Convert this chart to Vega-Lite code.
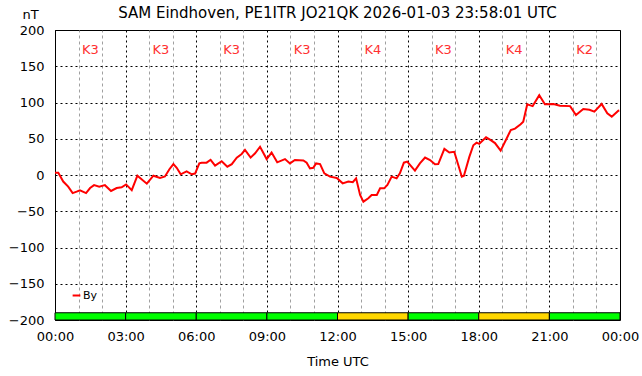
{
  "$schema": "https://vega.github.io/schema/vega-lite/v6.json",
  "width": 565,
  "height": 290,
  "autosize": "none",
  "padding": {"left": 55, "top": 30, "right": 22, "bottom": 56},
  "background": "white",
  "config": {
    "font": "DejaVu Sans",
    "view": {"stroke": "black", "strokeWidth": 1},
    "title": {"font": "DejaVu Sans", "fontSize": 15, "fontWeight": "normal", "color": "black", "offset": 5}
  },
  "title": {"text": "SAM Eindhoven, PE1ITR JO21QK 2026-01-03 23:58:01 UTC", "anchor": "middle", "dy": 18},
  "datasets": {
    "blocks": [
      {"start": 0, "end": 3, "mid": 1.5, "k": "K3"},
      {"start": 3, "end": 6, "mid": 4.5, "k": "K3"},
      {"start": 6, "end": 9, "mid": 7.5, "k": "K3"},
      {"start": 9, "end": 12, "mid": 10.5, "k": "K3"},
      {"start": 12, "end": 15, "mid": 13.5, "k": "K4"},
      {"start": 15, "end": 18, "mid": 16.5, "k": "K3"},
      {"start": 18, "end": 21, "mid": 19.5, "k": "K4"},
      {"start": 21, "end": 24, "mid": 22.5, "k": "K2"}
    ],
    "by": [
      {"h": 0.00, "nT": 3}, {"h": 0.14, "nT": 3}, {"h": 0.35, "nT": -9}, {"h": 0.56, "nT": -16},
      {"h": 0.75, "nT": -25}, {"h": 0.92, "nT": -23}, {"h": 1.06, "nT": -21}, {"h": 1.32, "nT": -25},
      {"h": 1.49, "nT": -18}, {"h": 1.66, "nT": -14}, {"h": 1.88, "nT": -16}, {"h": 2.12, "nT": -14},
      {"h": 2.38, "nT": -22}, {"h": 2.62, "nT": -18}, {"h": 2.83, "nT": -17}, {"h": 3.02, "nT": -13},
      {"h": 3.26, "nT": -21}, {"h": 3.50, "nT": -1}, {"h": 3.90, "nT": -12}, {"h": 4.18, "nT": -1},
      {"h": 4.46, "nT": -4}, {"h": 4.67, "nT": -2}, {"h": 4.86, "nT": 8}, {"h": 5.03, "nT": 15},
      {"h": 5.17, "nT": 10}, {"h": 5.34, "nT": 1}, {"h": 5.59, "nT": 5}, {"h": 5.81, "nT": 1},
      {"h": 5.95, "nT": 2}, {"h": 6.13, "nT": 16}, {"h": 6.23, "nT": 17}, {"h": 6.44, "nT": 17},
      {"h": 6.61, "nT": 21}, {"h": 6.80, "nT": 13}, {"h": 7.08, "nT": 19}, {"h": 7.32, "nT": 11.5},
      {"h": 7.51, "nT": 15}, {"h": 7.72, "nT": 24}, {"h": 7.93, "nT": 29}, {"h": 8.07, "nT": 34.5},
      {"h": 8.31, "nT": 24}, {"h": 8.50, "nT": 30}, {"h": 8.71, "nT": 39}, {"h": 8.99, "nT": 22},
      {"h": 9.20, "nT": 31}, {"h": 9.44, "nT": 17.5}, {"h": 9.77, "nT": 22}, {"h": 9.98, "nT": 16},
      {"h": 10.19, "nT": 20.7}, {"h": 10.55, "nT": 20}, {"h": 10.69, "nT": 17}, {"h": 10.83, "nT": 9},
      {"h": 10.97, "nT": 10}, {"h": 11.09, "nT": 16}, {"h": 11.26, "nT": 15}, {"h": 11.44, "nT": 2.3},
      {"h": 11.68, "nT": -2.3}, {"h": 11.97, "nT": -4}, {"h": 12.22, "nT": -11.5}, {"h": 12.46, "nT": -9},
      {"h": 12.65, "nT": -10}, {"h": 12.79, "nT": -4.6}, {"h": 12.96, "nT": -27.6}, {"h": 13.10, "nT": -36.8},
      {"h": 13.31, "nT": -32}, {"h": 13.45, "nT": -27.6}, {"h": 13.67, "nT": -27.6}, {"h": 13.81, "nT": -18.4},
      {"h": 13.98, "nT": -18.4}, {"h": 14.12, "nT": -13.8}, {"h": 14.30, "nT": -2.3}, {"h": 14.51, "nT": -4.6},
      {"h": 14.65, "nT": 2.3}, {"h": 14.82, "nT": 17}, {"h": 14.96, "nT": 18.4}, {"h": 15.29, "nT": 6},
      {"h": 15.50, "nT": 16}, {"h": 15.72, "nT": 24}, {"h": 15.93, "nT": 20.7}, {"h": 16.14, "nT": 14.7},
      {"h": 16.28, "nT": 15}, {"h": 16.54, "nT": 36}, {"h": 16.75, "nT": 31}, {"h": 16.96, "nT": 32},
      {"h": 17.13, "nT": 13.8}, {"h": 17.28, "nT": -2.3}, {"h": 17.37, "nT": -1}, {"h": 17.60, "nT": 25},
      {"h": 17.77, "nT": 41}, {"h": 17.91, "nT": 44.6}, {"h": 18.02, "nT": 43}, {"h": 18.31, "nT": 52},
      {"h": 18.51, "nT": 48}, {"h": 18.69, "nT": 44}, {"h": 18.93, "nT": 33.5}, {"h": 19.19, "nT": 50.6},
      {"h": 19.36, "nT": 62}, {"h": 19.54, "nT": 64}, {"h": 19.78, "nT": 70}, {"h": 19.89, "nT": 73.5},
      {"h": 20.06, "nT": 97.5}, {"h": 20.29, "nT": 95}, {"h": 20.57, "nT": 110}, {"h": 20.81, "nT": 97.5},
      {"h": 21.17, "nT": 98}, {"h": 21.45, "nT": 95.6}, {"h": 21.88, "nT": 95}, {"h": 22.13, "nT": 82.8},
      {"h": 22.44, "nT": 91}, {"h": 22.70, "nT": 90}, {"h": 22.91, "nT": 87.4}, {"h": 23.22, "nT": 98},
      {"h": 23.46, "nT": 85}, {"h": 23.65, "nT": 80.5}, {"h": 23.93, "nT": 88.7}, {"h": 23.97, "nT": 89}
    ]
  },
  "resolve": {"axis": {"x": "independent", "y": "independent"}},
  "layer": [
    {
      "data": {"name": "blocks"},
      "mark": {"type": "rect", "stroke": "black", "strokeWidth": 1},
      "encoding": {
        "x": {
          "field": "start", "type": "quantitative",
          "scale": {"domain": [0, 24], "nice": false, "zero": false},
          "axis": {
            "orient": "top", "values": [1, 2, 4, 5, 7, 8, 10, 11, 13, 14, 16, 17, 19, 20, 22, 23],
            "grid": true, "gridColor": "#a0a0a0", "gridDash": [3, 3], "gridWidth": 1,
            "labels": false, "ticks": false, "domain": false, "title": null,
            "minExtent": 0, "maxExtent": 0
          }
        },
        "x2": {"field": "end"},
        "y": {
          "datum": -200, "type": "quantitative",
          "scale": {"domain": [-200, 200], "nice": false},
          "axis": {
            "orient": "left",
            "values": [-200, -150, -100, -50, 0, 50, 100, 150, 200],
            "grid": true, "gridColor": "black", "gridDash": [2, 3], "gridWidth": 1,
            "domain": false, "ticks": false, "labelPadding": 11, "labelFontSize": 13,
            "labelColor": "black", "labelFont": "DejaVu Sans", "labelFlush": false, "labelOverlap": false,
            "title": "nT", "titleAngle": 0, "titleX": -25, "titleY": -16, "titleAlign": "center",
            "titleBaseline": "middle", "titleFontSize": 13, "titleFontWeight": "normal", "titleColor": "black",
            "titleFont": "DejaVu Sans"
          }
        },
        "y2": {"datum": -190},
        "fill": {
          "field": "k", "type": "nominal",
          "scale": {"domain": ["K2", "K3", "K4"], "range": ["#00ff00", "#00ff00", "#ffd700"]},
          "legend": null
        }
      }
    },
    {
      "data": {"name": "blocks"},
      "mark": {"type": "text", "fontSize": 13, "color": "#ff3030", "font": "DejaVu Sans", "baseline": "middle", "align": "center"},
      "encoding": {
        "x": {"field": "mid", "type": "quantitative", "axis": null},
        "y": {"datum": 172, "type": "quantitative", "axis": null},
        "text": {"field": "k"}
      }
    },
    {
      "data": {"name": "by"},
      "mark": {"type": "line", "strokeWidth": 2, "interpolate": "linear"},
      "encoding": {
        "x": {
          "field": "h", "type": "quantitative",
          "axis": {
            "orient": "bottom", "values": [0, 3, 6, 9, 12, 15, 18, 21, 24],
            "labelExpr": "(datum.value % 24 < 10 ? '0' : '') + (datum.value % 24) + ':00'",
            "grid": true, "gridColor": "black", "gridDash": [2, 3], "gridWidth": 1,
            "domain": false, "ticks": false, "labelPadding": 10, "labelFontSize": 13,
            "labelColor": "black", "labelFont": "DejaVu Sans", "labelFlush": false, "labelOverlap": false,
            "title": "Time UTC", "titleFontSize": 13, "titleFontWeight": "normal", "titleColor": "black",
            "titlePadding": 12, "titleFont": "DejaVu Sans"
          }
        },
        "y": {"field": "nT", "type": "quantitative", "axis": null},
        "stroke": {
          "datum": "By", "type": "nominal",
          "scale": {"range": ["#ff0000"]},
          "legend": {
            "orient": "none", "legendX": 16, "legendY": 260, "title": null,
            "symbolType": "stroke", "symbolStrokeWidth": 2, "symbolSize": 60,
            "labelFontSize": 11, "labelColor": "black", "labelFont": "DejaVu Sans", "labelOffset": 1, "padding": 0
          }
        }
      }
    }
  ]
}
